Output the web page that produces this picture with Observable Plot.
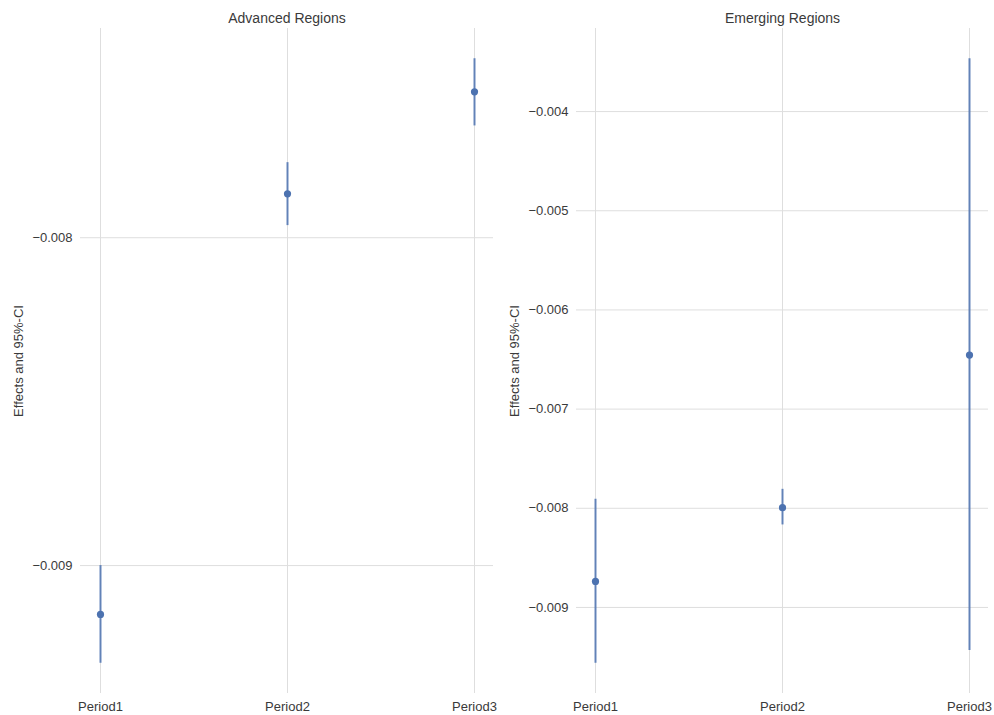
<!DOCTYPE html>
<html>
<head>
<meta charset="utf-8">
<script src="https://cdn.jsdelivr.net/npm/d3@7"></script>
<script src="https://cdn.jsdelivr.net/npm/@observablehq/plot@0.6"></script>
<style>
  html, body { margin: 0; padding: 0; background: #fff; }
  #wrap { position: relative; width: 994px; height: 715px; font-family: "Liberation Sans", Arial, sans-serif; }
  #left, #right { position: absolute; top: 0; }
  #left { left: 0; }
  #right { left: 497px; }
</style>
</head>
<body>
<div id="wrap"><div id="left"></div><div id="right"></div></div>
<script>
const periods = ["Period1", "Period2", "Period3"];

const advEst = [-0.009149, -0.007866, -0.007555];
const advLo  = [-0.009298, -0.007963, -0.007659];
const advHi  = [-0.009000, -0.007771, -0.007454];

const emeEst = [-0.008738, -0.007994, -0.006455];
const emeLo  = [-0.009563, -0.008168, -0.009433];
const emeHi  = [-0.007909, -0.007809, -0.003467];

const advTicks = [-0.009, -0.008];
const emeTicks = [-0.009, -0.008, -0.007, -0.006, -0.005, -0.004];

const titles = ["Advanced Regions", "Emerging Regions"];
const yLabel = "Effects and 95%-CI";

const BLUE = "#4c72b0";
const GRID = "#dedede";
const TEXT = "#3a3a3a";

function panel(title, est, lo, hi, ticks, mLeft, mRight) {
  const rows = periods.map((p, i) => ({period: p, est: est[i], lo: lo[i], hi: hi[i]}));
  const ymin = d3.min(lo), ymax = d3.max(hi);
  const pad = (ymax - ymin) * 0.05;
  return Plot.plot({
    width: 497,
    height: 715,
    marginTop: 28,
    marginBottom: 22,
    marginLeft: mLeft,
    marginRight: mRight,
    style: {fontFamily: '"Liberation Sans", Arial, sans-serif', fontSize: "13px", color: TEXT, background: "#fff"},
    x: {type: "point", domain: periods, padding: 0.1},
    y: {domain: [ymin - pad, ymax + pad]},
    marks: [
      Plot.gridX(periods, {stroke: GRID, strokeOpacity: 1, strokeWidth: 1}),
      Plot.gridY(ticks, {stroke: GRID, strokeOpacity: 1, strokeWidth: 1}),
      Plot.axisX({tickSize: 0, tickPadding: 8, label: null, fontSize: 13}),
      Plot.axisY(ticks, {tickSize: 0, tickPadding: 8, tickFormat: d3.format(".3f"), label: null, fontSize: 13}),
      Plot.text([yLabel], {frameAnchor: "left", rotate: -90, textAnchor: "middle", dx: -62, fontSize: 13, fill: TEXT}),
      Plot.ruleX(rows, {x: "period", y1: "lo", y2: "hi", stroke: BLUE, strokeWidth: 2, strokeOpacity: 0.85}),
      Plot.dot(rows, {x: "period", y: "est", r: 3.6, fill: BLUE, stroke: "none"}),
      Plot.text([title], {frameAnchor: "top", dy: -15, fontSize: 14, fill: TEXT})
    ]
  });
}

document.getElementById("left").appendChild(panel(titles[0], advEst, advLo, advHi, advTicks, 80, 4));
document.getElementById("right").appendChild(panel(titles[1], emeEst, emeLo, emeHi, emeTicks, 79, 6));
</script>
</body>
</html>
